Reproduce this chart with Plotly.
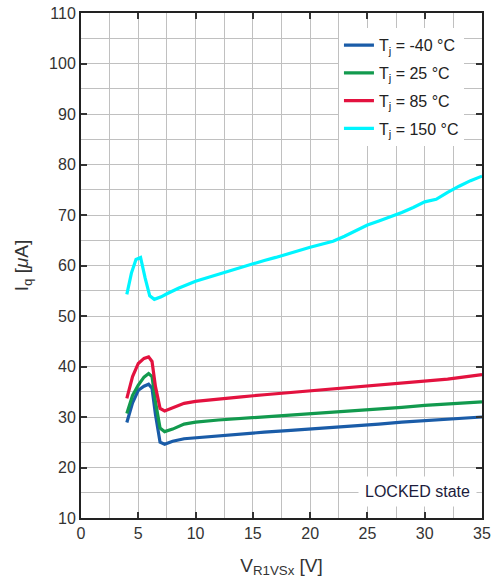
import plotly.graph_objects as go

# ---- data ----
x_cold = [4, 4.5, 5, 5.5, 5.9, 6.2, 6.5, 6.9, 7.3, 8, 9, 10, 12, 14, 16, 18, 20, 22, 24, 26, 28, 30, 32, 34, 35]
iq_m40 = [28.9, 32.8, 35.3, 36.1, 36.5, 35.7, 30.5, 25.0, 24.6, 25.2, 25.7, 25.9, 26.3, 26.7, 27.0, 27.3, 27.6, 27.9, 28.3, 28.6, 29.0, 29.3, 29.6, 29.9, 30.0]
iq_25 = [30.7, 34.3, 36.3, 37.9, 38.6, 38.0, 33.0, 27.8, 27.1, 27.6, 28.6, 29.0, 29.4, 29.7, 30.0, 30.3, 30.6, 30.9, 31.3, 31.6, 31.9, 32.3, 32.6, 32.9, 33.0]
iq_85 = [33.7, 38.0, 40.6, 41.6, 41.9, 41.0, 36.0, 31.7, 31.2, 31.8, 32.7, 33.1, 33.6, 34.0, 34.4, 34.8, 35.2, 35.5, 35.9, 36.3, 36.7, 37.1, 37.5, 38.1, 38.4]
x_hot = [4, 4.4, 4.8, 5.2, 5.6, 6.0, 6.4, 7.0, 7.5, 8.5, 10, 11, 12, 13, 14, 15, 16, 17, 18, 19, 20, 21, 22, 23, 24, 25, 26, 27, 28, 29, 30, 31, 32, 33, 34, 35]
iq_150 = [54.3, 58.5, 61.2, 61.6, 57.5, 54.0, 53.3, 53.8, 54.4, 55.5, 56.9, 57.6, 58.3, 59.0, 59.7, 60.4, 61.0, 61.6, 62.3, 63.0, 63.6, 64.2, 64.8, 65.8, 66.9, 68.0, 68.8, 69.6, 70.5, 71.5, 72.6, 73.1, 74.5, 75.7, 76.8, 77.7]

names = ["T<sub>j</sub> = -40 °C", "T<sub>j</sub> = 25 °C", "T<sub>j</sub> = 85 °C", "T<sub>j</sub> = 150 °C"]
colors = ["#1a5ca8", "#129a4e", "#e3123f", "#00f5ff"]
series = [(x_cold, iq_m40), (x_cold, iq_25), (x_cold, iq_85), (x_hot, iq_150)]

x_ticks = [0, 5, 10, 15, 20, 25, 30, 35]
y_ticks = [10, 20, 30, 40, 50, 60, 70, 80, 90, 100, 110]

FONT = "Liberation Sans, Arial, sans-serif"

fig = go.Figure()
for i, ((xs, ys), nm, c) in enumerate(zip(series, names, colors)):
    fig.add_trace(go.Scatter(x=xs, y=ys, mode="lines", name=nm,
                             legendgroup=f"g{i}",
                             line=dict(color=c, width=3.2)))

axis_common = dict(
    showline=True, linecolor="#222222", linewidth=2, mirror="ticks",
    ticks="inside", ticklen=6, tickwidth=1.5, tickcolor="#333333",
    showgrid=True, gridcolor="#c0c0c0", gridwidth=1.3,
    zeroline=False, automargin=False,
    tickfont=dict(family=FONT, size=16, color="#333333"),
)

fig.update_xaxes(range=[0, 35], tickvals=x_ticks,
                 minor=dict(dtick=2.5, showgrid=True, gridcolor="#c0c0c0", gridwidth=1.3),
                 title=dict(text="V<sub>R1VSx</sub> [V]", font=dict(family=FONT, size=19, color="#333333"), standoff=17),
                 **axis_common)
fig.update_yaxes(range=[10, 110], tickvals=y_ticks,
                 minor=dict(dtick=5, showgrid=True, gridcolor="#c0c0c0", gridwidth=1.3),
                 title=dict(text="I<sub>q</sub> [<i>μ</i>A]", font=dict(family=FONT, size=19, color="#333333"), standoff=15),
                 **axis_common)

fig.add_annotation(x=34.6, y=15.3, xref="x", yref="y", xanchor="right", yanchor="middle",
                   text="LOCKED state", showarrow=False,
                   font=dict(family=FONT, size=16, color="#1c1c3c"),
                   bgcolor="white", borderpad=6)

fig.update_layout(
    width=495, height=582,
    margin=dict(l=81, r=13, t=13, b=64),
    paper_bgcolor="white", plot_bgcolor="white",
    showlegend=True,
    legend=dict(x=0.955, xanchor="right", y=0.97, yanchor="top",
                bgcolor="white", borderwidth=0,
                font=dict(family=FONT, size=16, color="#222222"),
                traceorder="grouped", tracegroupgap=4),
)

fig.write_html("out.html", config={"displayModeBar": False},
               post_script="document.body.style.margin='0';")
